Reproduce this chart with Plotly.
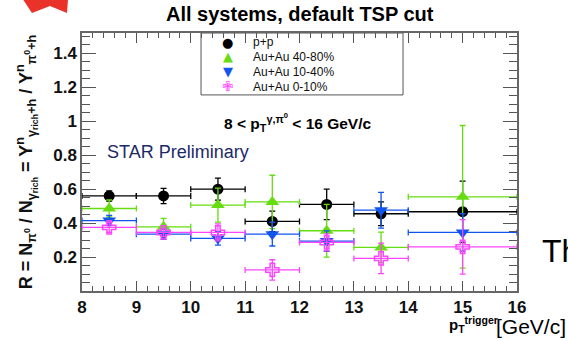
import plotly.graph_objects as go

# Trigger pT bins (centre and half-width), GeV/c
pt_centers = [8.5, 9.5, 10.5, 11.5, 12.5, 13.5, 15.0]
pt_halfwidth = [0.5, 0.5, 0.5, 0.5, 0.5, 0.5, 1.0]

# R = N_pi0 / N_gamma_rich for each collision system
r_pp = [0.56, 0.56, 0.60, 0.41, 0.51, 0.455, 0.467]
err_pp = [0.03, 0.045, 0.065, 0.06, 0.09, 0.07, 0.18]

r_auau_40_80 = [0.486, 0.378, 0.506, 0.525, 0.355, 0.257, 0.555]
err_auau_40_80 = [0.05, 0.05, 0.10, 0.157, 0.155, 0.09, 0.42]

r_auau_10_40 = [0.415, 0.335, 0.31, 0.335, 0.294, 0.476, 0.345]
err_auau_10_40 = [0.03, 0.03, 0.04, 0.07, 0.06, 0.105, 0.11]

r_auau_0_10 = [0.375, 0.345, 0.345, 0.124, 0.286, 0.192, 0.26]
err_auau_0_10 = [0.03, 0.025, 0.05, 0.06, 0.05, 0.09, 0.16]

series_names = ["p+p", "Au+Au 40-80%", "Au+Au 10-40%", "Au+Au 0-10%"]
series_values = [r_pp, r_auau_40_80, r_auau_10_40, r_auau_0_10]
series_errors = [err_pp, err_auau_40_80, err_auau_10_40, err_auau_0_10]
series_colors = ["#000000", "#66dd11", "#1155ee", "#ff44ff"]
series_symbols = ["circle", "triangle-up", "triangle-down", "cross-open"]
series_sizes = [11, 12, 12, 11]
# glyphs used for the boxed key in the upper part of the frame
legend_glyphs = ["●", "▲", "▼", "✙"]

x_ticks = [8, 9, 10, 11, 12, 13, 14, 15, 16]
y_ticks = [0.2, 0.4, 0.6, 0.8, 1.0, 1.2, 1.4]
y_tick_text = ["0.2", "0.4", "0.6", "0.8", "1", "1.2", "1.4"]

FONT = "Arial, Liberation Sans, Helvetica, sans-serif"
GLYPH_FONT = "DejaVu Sans, Arial, sans-serif"

fig = go.Figure()
for name, vals, errs, col, sym, size in zip(
    series_names, series_values, series_errors, series_colors, series_symbols, series_sizes
):
    fig.add_trace(
        go.Scatter(
            x=pt_centers,
            y=vals,
            mode="markers",
            name=name,
            showlegend=False,
            marker=dict(
                symbol=sym,
                size=size,
                color=col,
                line=dict(color=col, width=1.5 if sym == "cross-open" else 0),
            ),
            error_x=dict(type="data", array=pt_halfwidth, color=col, thickness=1.3, width=3),
            error_y=dict(type="data", array=errs, color=col, thickness=1.3, width=3),
        )
    )

axis_common = dict(
    showline=True,
    linecolor="#666666",
    linewidth=1.5,
    mirror="allticks",
    ticks="inside",
    tickcolor="#555555",
    tickwidth=1,
    showgrid=False,
    zeroline=False,
    tickfont=dict(family=FONT, size=17, color="#111111", weight="bold"),
)

fig.update_xaxes(
    range=[8, 16],
    tickvals=x_ticks,
    ticklen=10,
    minor=dict(dtick=0.2, ticks="inside", ticklen=5, tickcolor="#555555"),
    **axis_common,
)
fig.update_yaxes(
    range=[0, 1.52],
    tickvals=y_ticks,
    ticktext=y_tick_text,
    ticklen=14,
    minor=dict(dtick=0.05, ticks="inside", ticklen=8, tickcolor="#555555"),
    title=dict(
        text="R = N<sub>π<sup>0</sup></sub> / N<sub>γ<sub>rich</sub></sub> = "
        "Y<sup>n</sup><sub>γ<sub>rich</sub>+h</sub> / Y<sup>n</sup><sub>π<sup>0</sup>+h</sub>",
        font=dict(family=FONT, size=18, color="#111111", weight="bold"),
        standoff=16,
    ),
    **axis_common,
)

# boxed key: frame, then one glyph + label per series
key_x0, key_x1, key_y0, key_y1 = 0.2736, 0.738, 0.76, 1.0
key_rows = [0.965, 0.907, 0.849, 0.791]
annotations = []
for glyph, name, col, row in zip(legend_glyphs, series_names, series_colors, key_rows):
    annotations.append(
        dict(
            text=glyph, xref="paper", yref="paper", x=0.3356, y=row,
            xanchor="center", yanchor="middle", showarrow=False,
            font=dict(family=GLYPH_FONT, size=13, color=col),
        )
    )
    annotations.append(
        dict(
            text=name, xref="paper", yref="paper", x=0.3885, y=row,
            xanchor="left", yanchor="middle", showarrow=False,
            font=dict(family=FONT, size=12, color="#111111"),
        )
    )

annotations += [
    dict(
        text="<b>All systems, default TSP cut</b>",
        xref="paper", yref="paper",
        x=0.5, y=1.0, yshift=19,
        xanchor="center", yanchor="middle",
        showarrow=False,
        font=dict(family=FONT, size=20, color="#000000"),
    ),
    dict(
        text="<b>8 < p<sub>T</sub><sup>γ,π<sup>0</sup></sup> < 16 GeV/c</b>",
        xref="x", yref="y",
        x=11.98, y=0.99,
        xanchor="center", yanchor="middle",
        showarrow=False,
        font=dict(family=FONT, size=15.5, color="#000000"),
    ),
    dict(
        text="STAR Preliminary",
        xref="x", yref="y",
        x=8.42, y=0.82,
        xanchor="left", yanchor="middle",
        showarrow=False,
        font=dict(family=FONT, size=18, color="#1b2a66"),
    ),
    dict(
        text="<b>p<sub>T</sub><sup>trigger</sup></b>",
        xref="paper", yref="paper",
        x=0.9, y=-0.128,
        xanchor="center", yanchor="middle",
        showarrow=False,
        font=dict(family=FONT, size=15, color="#000000"),
    ),
    dict(
        text="[GeV/c]",
        xref="paper", yref="paper",
        x=1.0, xshift=51, y=-0.136,
        xanchor="right", yanchor="middle",
        showarrow=False,
        font=dict(family=FONT, size=21, color="#000000"),
    ),
    dict(
        text="Th",
        xref="paper", yref="paper",
        x=1.053, y=0.155,
        xanchor="left", yanchor="middle",
        showarrow=False,
        font=dict(family=FONT, size=32, color="#000000"),
    ),
]

fig.update_layout(
    width=568,
    height=341,
    margin=dict(l=82, r=51, t=33, b=50),
    paper_bgcolor="white",
    plot_bgcolor="white",
    showlegend=False,
    annotations=annotations,
    shapes=[
        dict(
            type="rect",
            xref="paper", yref="paper",
            x0=key_x0, x1=key_x1, y0=key_y0, y1=key_y1,
            fillcolor="white",
            line=dict(color="#555555", width=1),
            layer="below",
        ),
        # bottom of the red star logo at the top-left corner
        dict(
            type="path",
            xref="paper", yref="paper",
            path="M -0.1356 1.13 L -0.0322 1.13 L -0.0345 1.078 L -0.0736 1.105 L -0.115 1.078 Z",
            fillcolor="#e8322a",
            line=dict(width=0),
            layer="above",
        ),
    ],
)

fig.write_html("out.html")
